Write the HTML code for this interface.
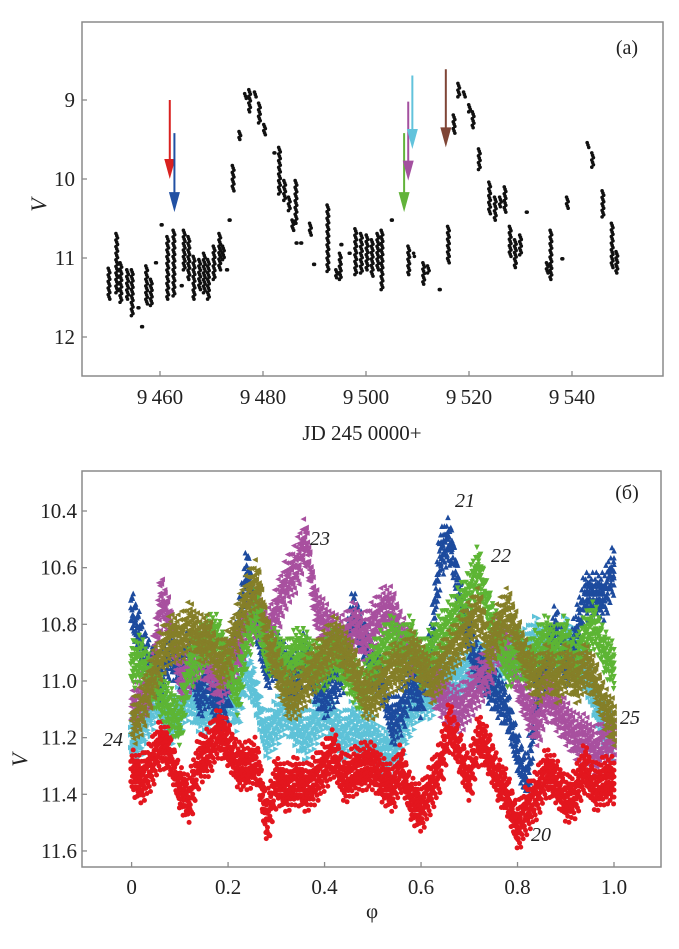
<!DOCTYPE html>
<html><head><meta charset="utf-8">
<style>
html,body{margin:0;padding:0;background:#fff;}
svg{display:block;}
svg text{font-family:"Liberation Serif","DejaVu Serif",serif;}
</style></head>
<body>
<svg id="chart" width="679" height="949" viewBox="0 0 679 949" xmlns="http://www.w3.org/2000/svg" font-family="Liberation Serif, serif">
<g id="topPanel"></g>
<g id="botPanel"></g>
</svg>
<script>
// ---------- Panel (a) data ----------
const streakDays = [9450.1,9451.6,9452.4,9453.7,9454.6,9455.9,9456.6,9457.4,9458.3,9459.3,9460.4,9461.5,9462.7,9464.3,9464.7,9465.6,9466.6,9467.7,9468.6,9469.4,9470.5,9471.6,9472.3,9473.1,9473.6,9474.2,9475.5,9476.6,9477.4,9478.5,9479.3,9480.3,9482.3,9483.2,9484.2,9485.1,9485.8,9486.4,9486.6,9487.5,9489.2,9490.0,9492.6,9494.3,9495.0,9495.3,9496.9,9498.0,9499.1,9500.2,9501.2,9502.3,9503.1,9505.1,9508.3,9509.4,9511.2,9512.1,9514.4,9516.0,9517.1,9518.0,9519.1,9520.1,9520.8,9522.0,9524.0,9525.1,9526.1,9527.0,9528.0,9529.0,9530.0,9531.3,9535.2,9535.9,9538.2,9539.1,9543.1,9544.0,9546.0,9547.8,9548.7];
const streakVmin = [11.13,10.69,11.06,11.15,11.15,11.63,11.87,11.10,11.27,11.06,10.58,10.73,10.65,11.35,10.65,10.73,10.98,11.02,10.94,11.02,10.85,10.69,10.85,11.15,10.52,9.83,9.40,8.92,8.87,8.90,9.04,9.31,9.67,9.60,10.02,10.23,10.52,10.02,10.81,10.81,10.56,11.08,10.33,11.15,10.94,10.83,10.94,10.63,10.69,10.71,10.77,10.69,10.65,10.52,10.85,10.94,11.06,11.10,11.40,10.60,9.19,8.79,8.90,9.06,9.15,9.62,10.04,10.23,10.23,10.10,10.60,10.77,10.71,10.42,11.06,10.65,11.01,10.23,9.54,9.67,10.15,10.56,10.92];
const streakVmax = [11.52,11.44,11.56,11.52,11.73,11.63,11.87,11.58,11.60,11.06,10.58,11.52,11.48,11.35,11.15,11.27,11.52,11.40,11.44,11.52,11.27,11.15,11.02,11.15,10.52,10.15,9.50,8.98,9.15,8.96,9.29,9.44,9.67,10.19,10.27,10.40,10.65,10.56,10.81,10.81,10.71,11.08,11.17,11.25,11.27,10.83,10.94,11.21,11.19,11.15,11.23,11.15,11.40,10.52,11.21,10.98,11.33,11.19,11.40,11.06,9.42,8.96,8.96,9.15,9.35,9.88,10.44,10.52,10.35,10.42,10.98,11.12,10.96,10.42,11.19,11.27,11.01,10.37,9.60,9.85,10.48,11.12,11.19];
const arrowDays = [9461.9,9462.8,9507.4,9508.2,9509.0,9515.5];
const arrowTop = [9.00,9.42,9.42,9.02,8.69,8.61];
const arrowTip = [10.00,10.42,10.42,10.02,9.62,9.60];
const arrowColors = ['#d9211f','#2150a3','#62b33a','#a3509f','#62c3dc','#7f4536'];
const topXTicks = [9460,9480,9500,9520,9540];
const topXTickLabels = ['9\u2009460','9\u2009480','9\u2009500','9\u2009520','9\u2009540'];
const topYTicks = [9,10,11,12];

// ---------- Panel (b) data ----------
const phases = [0,0.02,0.04,0.06,0.08,0.1,0.12,0.14,0.16,0.18,0.2,0.22,0.24,0.26,0.28,0.3,0.32,0.34,0.36,0.38,0.4,0.42,0.44,0.46,0.48,0.5,0.52,0.54,0.56,0.58,0.6,0.62,0.64,0.66,0.68,0.7,0.72,0.74,0.76,0.78,0.8,0.82,0.84,0.86,0.88,0.9,0.92,0.94,0.96,0.98,1.0];
const v20 = [11.32,11.35,11.30,11.22,11.25,11.38,11.42,11.28,11.25,11.18,11.22,11.30,11.30,11.28,11.50,11.35,11.38,11.35,11.38,11.35,11.30,11.25,11.35,11.32,11.30,11.30,11.35,11.38,11.30,11.42,11.45,11.38,11.30,11.15,11.25,11.35,11.20,11.25,11.35,11.40,11.52,11.45,11.40,11.32,11.35,11.42,11.40,11.30,11.38,11.35,11.35];
const v21 = [10.75,10.85,10.95,11.00,10.90,10.95,10.90,11.05,11.00,11.10,11.05,10.85,10.60,10.80,10.95,10.90,10.95,11.00,10.90,11.00,11.05,11.00,10.95,10.75,10.85,10.95,11.00,11.15,11.10,11.00,11.05,10.90,10.55,10.50,10.70,10.85,10.95,11.00,11.05,11.10,11.25,11.35,11.05,10.95,10.80,10.95,10.85,10.70,10.70,10.70,10.60];
const v22 = [10.95,10.92,11.00,11.05,11.10,11.15,10.95,10.90,10.85,10.85,10.95,11.05,10.85,10.75,10.90,10.90,10.95,10.90,10.90,10.95,10.95,10.90,10.95,11.00,11.05,10.95,10.90,10.85,10.90,10.85,10.95,10.90,10.85,10.80,10.75,10.70,10.60,10.75,10.85,10.95,10.90,10.95,10.90,10.85,10.90,10.85,10.95,10.85,10.80,10.90,10.95];
const v23 = [11.10,11.05,11.00,10.70,10.80,11.00,10.95,10.90,10.95,11.00,10.95,10.90,10.80,10.75,10.85,10.75,10.65,10.60,10.50,10.75,10.80,10.85,10.85,10.80,10.85,10.80,10.75,10.75,10.85,10.90,10.95,11.00,11.05,11.10,11.10,11.05,11.00,10.95,10.85,10.90,11.00,11.10,11.15,11.05,11.10,11.15,11.20,11.20,11.25,11.20,11.20];
const v24 = [11.20,11.20,11.10,11.05,11.15,11.10,11.05,11.10,11.10,11.05,11.05,11.10,10.95,11.05,11.20,11.15,11.10,11.15,11.20,11.15,11.10,11.15,11.20,11.15,11.20,11.20,11.25,11.25,11.20,11.10,11.05,11.05,11.00,11.00,11.00,10.95,10.95,10.95,10.95,10.90,10.90,10.90,10.85,10.90,10.90,10.85,10.90,10.95,11.05,11.15,11.20];
const v25 = [11.15,11.10,11.00,10.90,10.85,10.85,10.80,10.85,10.85,10.95,10.90,10.80,10.70,10.65,10.85,10.95,11.05,11.05,11.00,10.95,10.90,10.85,10.90,10.95,11.05,11.05,11.00,10.95,10.95,10.90,10.95,11.00,10.95,10.90,10.85,10.80,10.75,10.90,10.80,10.75,10.85,10.95,11.00,10.95,11.00,10.95,11.00,10.95,11.00,11.10,11.15];
const botXTicks = [0,0.2,0.4,0.6,0.8,1.0];
const botXTickLabels = ['0','0.2','0.4','0.6','0.8','1.0'];
const botYTicks = [10.4,10.6,10.8,11.0,11.2,11.4,11.6];
const botYTickLabels = ['10.4','10.6','10.8','11.0','11.2','11.4','11.6'];

const NS='http://www.w3.org/2000/svg';
const FONT='Liberation Serif, DejaVu Serif, serif';
function mk(tag,attrs,parent){const e=document.createElementNS(NS,tag);for(const k in attrs)e.setAttribute(k,attrs[k]);if(tag==='text')e.setAttribute('font-family',FONT);parent.appendChild(e);return e;}

const xA = d => 160 + (d-9460)*5.15;
const yA = v => 100 + (v-9)*79;
const xB = p => 131.6 + p*482.4;
const yB = v => 511 + (v-10.4)*283.3;

// ---------- draw panel (a) ----------
const topG=document.getElementById('topPanel');
const fa=mk('rect',{x:82,y:22,width:581,height:354,fill:'none',stroke:'#8a8a8a','stroke-width':1.5},topG);


topXTicks.forEach((t,i)=>{
  const l=mk('line',{x1:xA(t),x2:xA(t),y1:376,y2:371,stroke:'#8a8a8a','stroke-width':1.3},topG);
  
  
  const tx=mk('text',{x:xA(t),y:404,'font-size':21,'text-anchor':'middle',fill:'#222'},topG);
  
  
  tx.textContent=topXTickLabels[i];
});
topYTicks.forEach(t=>{
  const l=mk('line',{x1:82,x2:87,y1:yA(t),y2:yA(t),stroke:'#8a8a8a','stroke-width':1.3},topG);
  
  
  const tx=mk('text',{x:75,y:yA(t)+7,'font-size':21,'text-anchor':'end',fill:'#222'},topG);
  
  
  tx.textContent=String(t);
});
streakDays.forEach((d,i)=>{
  const y0=yA(streakVmin[i]), y1=yA(streakVmax[i]);
  const n=Math.max(1,Math.round((y1-y0)/2.2));
  for(let k=0;k<=n;k++){
    const c=mk('circle',{cx:xA(d)+((k%3)-1)*0.8,cy:y0+(y1-y0)*(k/n),r:1.8,fill:'#111'},topG);
    
    
  }
});
arrowDays.forEach((d,i)=>{
  const x=xA(d), y0=yA(arrowTop[i]), y1=yA(arrowTip[i]);
  const g=mk('g',{},topG);
  
  
  mk('line',{x1:x,x2:x,y1:y0,y2:y1-12,stroke:arrowColors[i],'stroke-width':2},g);
  mk('polygon',{points:`${x-5.5},${y1-20} ${x+5.5},${y1-20} ${x},${y1}`,fill:arrowColors[i]},g);
});
let t1=mk('text',{x:627,y:54,'font-size':20,'text-anchor':'middle',fill:'#222'},topG);


t1.textContent='(a)';
let t2=mk('text',{x:362,y:440,'font-size':21,'text-anchor':'middle',fill:'#222'},topG);


t2.textContent='JD 245 0000+';
let t3=mk('text',{x:46,y:205,'font-size':22,'font-style':'italic','text-anchor':'middle',fill:'#222',transform:'rotate(-90 46 205)'},topG);


t3.textContent='V';

// ---------- draw panel (b) ----------
const botG=document.getElementById('botPanel');
const fb=mk('rect',{x:82,y:471,width:579,height:396,fill:'none',stroke:'#8a8a8a','stroke-width':1.5},botG);


botXTicks.forEach((t,i)=>{
  const l=mk('line',{x1:xB(t),x2:xB(t),y1:867,y2:862,stroke:'#8a8a8a','stroke-width':1.3},botG);
  
  
  const tx=mk('text',{x:xB(t),y:894,'font-size':21,'text-anchor':'middle',fill:'#222'},botG);
  
  
  tx.textContent=botXTickLabels[i];
});
botYTicks.forEach((t,i)=>{
  const l=mk('line',{x1:82,x2:87,y1:yB(t),y2:yB(t),stroke:'#8a8a8a','stroke-width':1.3},botG);
  
  
  const tx=mk('text',{x:77,y:yB(t)+7,'font-size':21,'text-anchor':'end',fill:'#222'},botG);
  
  
  tx.textContent=botYTickLabels[i];
});
function marker(shape,x,y,col,parent){
  const s=2.8;let pts;
  if(shape==='circle'){return mk('circle',{cx:x,cy:y,r:2.5,fill:col},parent);}
  if(shape==='up')pts=`${x-s},${y+s} ${x+s},${y+s} ${x},${y-s}`;
  if(shape==='down')pts=`${x-s},${y-s} ${x+s},${y-s} ${x},${y+s}`;
  if(shape==='left')pts=`${x+s},${y-s} ${x+s},${y+s} ${x-s},${y}`;
  if(shape==='right')pts=`${x-s},${y-s} ${x-s},${y+s} ${x+s},${y}`;
  return mk('polygon',{points:pts,fill:col},parent);
}
const seriesList=[
  {name:'series-24',vals:v24,col:'#5ec2d8',shape:'right'},
  {name:'series-21',vals:v21,col:'#1d4b9e',shape:'up'},
  {name:'series-23',vals:v23,col:'#a8509f',shape:'left'},
  {name:'series-20',vals:v20,col:'#e3161e',shape:'circle'},
  {name:'series-22',vals:v22,col:'#5db534',shape:'down'},
  {name:'series-25',vals:v25,col:'#857f28',shape:'left'}
];
const offs=[-0.06,-0.035,-0.012,0.012,0.035,0.06];
seriesList.forEach(s=>{
  const g=mk('g',{},botG);
  
  
  for(let i=0;i<phases.length-1;i++){
    const steps=8;
    for(let k=0;k<steps;k++){
      const f=k/steps;
      const p=phases[i]+(phases[i+1]-phases[i])*f;
      const v=s.vals[i]+(s.vals[i+1]-s.vals[i])*f;
      offs.forEach((o,j)=>{
        const oo=o*(0.6+((k*7+j*3)%5)*0.2);
        marker(s.shape,xB(p)+((j%2)?0.8:-0.8),yB(v+oo),s.col,g);
      });
    }
  }
  const last=phases.length-1;
  offs.forEach(o=>marker(s.shape,xB(phases[last]),yB(s.vals[last]+o),s.col,g));
});
const lbls=[['21',465,507],['23',320,545],['22',501,562],['25',630,724],['24',113,746],['20',541,841]];
lbls.forEach(l=>{
  const t=mk('text',{x:l[1],y:l[2],'font-size':20,'font-style':'italic','text-anchor':'middle',fill:'#222'},botG);
  
  
  t.textContent=l[0];
});
let t4=mk('text',{x:627,y:499,'font-size':20,'text-anchor':'middle',fill:'#222'},botG);


t4.textContent='(б)';
let t5=mk('text',{x:372,y:918,'font-size':21,'text-anchor':'middle',fill:'#222'},botG);


t5.textContent='φ';
let t6=mk('text',{x:27,y:760,'font-size':22,'font-style':'italic','text-anchor':'middle',fill:'#222',transform:'rotate(-90 27 760)'},botG);


t6.textContent='V';
</script>
</body></html>
